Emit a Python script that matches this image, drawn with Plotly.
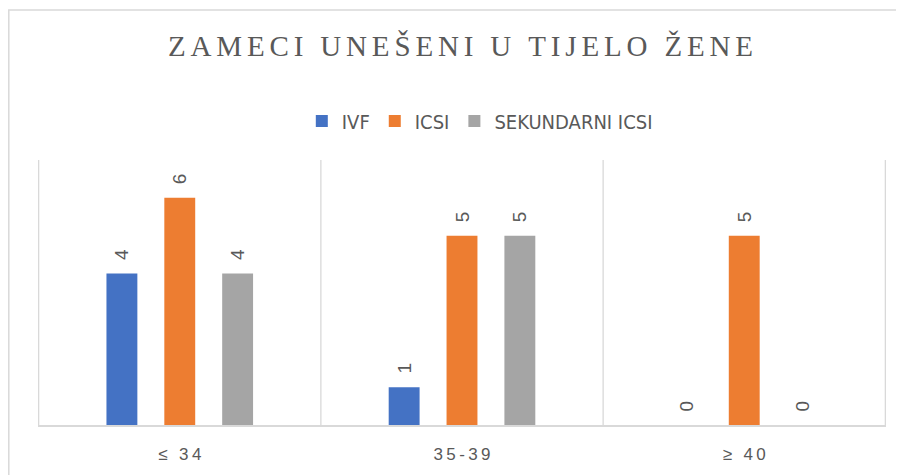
import plotly.graph_objects as go

# podaci
categories = ["≤ 34", "35-39", "≥ 40"]
ivf = [4, 1, 0]
icsi = [6, 5, 5]
sek_icsi = [4, 5, 0]
series_names = ["IVF", "ICSI", "SEKUNDARNI ICSI"]
colors = ["#4472C4", "#ED7D31", "#A5A5A5"]
TEXT_COL = "#595959"
LINE_COL = "#D9D9D9"

# stranica ima 8px margine, pa je figura za toliko manja
W, H = 896, 467
ML, MR, MT, MB = 30, 18, 152, 50


def spaced(s, sep="\u2009"):
    # razmak između slova kao u Excelu
    return sep.join(list(s))


fig = go.Figure()
for name, vals, col in zip(series_names, [ivf, icsi, sek_icsi], colors):
    fig.add_trace(go.Bar(
        x=categories,
        y=vals,
        name=name,
        marker=dict(color=col, line=dict(width=0)),
        text=["\u00a0\u00a0" + str(v) for v in vals],
        textposition="outside",
        textangle=-90,
        cliponaxis=False,
        textfont=dict(family="Liberation Sans", size=19, color=TEXT_COL),
    ))

# okomite linije između kategorija
shapes = []
for i in range(len(categories) + 1):
    shapes.append(dict(type="line", xref="x", yref="paper",
                       x0=i - 0.5, x1=i - 0.5, y0=0, y1=1,
                       line=dict(color=LINE_COL, width=1.3), layer="below"))
# okvir grafikona
pw, ph = W - ML - MR, H - MT - MB
shapes.append(dict(type="rect", xref="paper", yref="paper",
                   x0=(0.8 - ML) / pw, x1=1.2, y0=-0.5, y1=(H - MB - 2) / ph,
                   line=dict(color=LINE_COL, width=1.5), layer="below"))

fig.update_layout(
    width=W, height=H,
    barmode="group",
    bargap=0.385,
    bargroupgap=0.466,
    plot_bgcolor="#FFFFFF",
    paper_bgcolor="#FFFFFF",
    margin=dict(l=ML, r=MR, t=MT, b=MB),
    title=dict(
        text=spaced("ZAMECI UNEŠENI U TIJELO ŽENE", "\u200a\u200a"),
        font=dict(family="Liberation Serif", size=29, color=TEXT_COL),
        x=452.5 / W, xanchor="center",
        y=1 - 38 / H, yanchor="middle",
    ),
    legend=dict(
        orientation="h", x=0.521, xanchor="center", y=1.147, yanchor="middle",
        font=dict(family="DejaVu Sans Condensed, Liberation Sans", size=20,
                  color=TEXT_COL),
        traceorder="normal",
    ),
    xaxis=dict(
        tickvals=categories,
        ticktext=[spaced(c) for c in categories],
        showline=True, linecolor=LINE_COL, linewidth=1.5,
        showgrid=False, ticks="", ticklabelstandoff=13,
        tickfont=dict(family="Liberation Sans", size=17, color=TEXT_COL),
    ),
    yaxis=dict(range=[0, 7], visible=False, showgrid=False, zeroline=False),
    shapes=shapes,
    showlegend=True,
)

fig.write_html("out.html")
